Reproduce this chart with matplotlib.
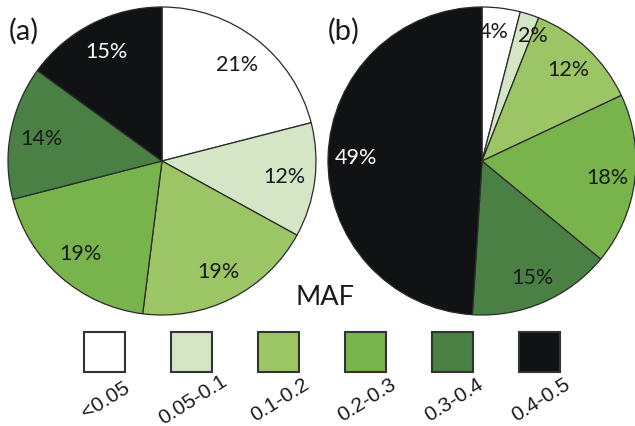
import matplotlib
matplotlib.use("Agg")
import matplotlib.pyplot as plt
from matplotlib.patches import Rectangle

categories = ["<0.05", "0.05-0.1", "0.1-0.2", "0.2-0.3", "0.3-0.4", "0.4-0.5"]
pct_a = [21, 12, 19, 19, 14, 15]
pct_b = [4, 2, 12, 18, 15, 49]
colors = ["#ffffff", "#d4e6c6", "#9cc566", "#78b44b", "#4b8044", "#101214"]
text_colors = ["#1a1a1a", "#1a1a1a", "#1a1a1a", "#1a1a1a", "#1a1a1a", "#ffffff"]

W, H = 635, 427
fig = plt.figure(figsize=(W / 100, H / 100), dpi=100)

R = 154
lim = 1.1
side = 2 * lim * R


def pie_axes(cx, cy):
    return fig.add_axes([(cx - side / 2) / W, (H - cy - side / 2) / H, side / W, side / H])


def draw_pie(ax, vals, pctdist):
    wedges, texts, autotexts = ax.pie(
        vals, colors=colors, startangle=90, counterclock=False,
        autopct=lambda p: f"{p:.0f}%", pctdistance=pctdist,
        wedgeprops=dict(edgecolor="#2a2a2a", linewidth=0.9),
        textprops=dict(fontsize=15.5, family="Lato"))
    for t, c in zip(autotexts, text_colors):
        t.set_color(c)
    ax.set_xlim(-lim, lim)
    ax.set_ylim(-lim, lim)
    ax.set_aspect("equal")
    ax.axis("off")
    return autotexts


ax_a = pie_axes(162, 162)
draw_pie(ax_a, pct_a, 0.8)
ax_b = pie_axes(482, 162)
at_b = draw_pie(ax_b, pct_b, 0.82)
# small-wedge labels sit slightly apart in the reference
x, y = at_b[0].get_position()
at_b[0].set_position((x - 0.03, y + 0.03))
x, y = at_b[1].get_position()
at_b[1].set_position((x + 0.08, y + 0.04))

# overlay axes in pixel coordinates for annotations and legend
ov = fig.add_axes([0, 0, 1, 1])
ov.set_xlim(0, W)
ov.set_ylim(H, 0)
ov.axis("off")

ov.text(24, 31, "(a)", fontsize=21, family="Lato", ha="center", va="center", color="#1a1a1a")
ov.text(344, 31, "(b)", fontsize=21, family="Lato", ha="center", va="center", color="#1a1a1a")
ov.text(325, 298, "MAF", fontsize=19.5, family="Lato", ha="center", va="center", color="#1a1a1a")

for i, (cat, col) in enumerate(zip(categories, colors)):
    x0 = 84 + i * 87
    ov.add_patch(Rectangle((x0, 333), 41, 40, facecolor=col, edgecolor="#333333", linewidth=1.5))
    ov.text(x0 + 22, 400, cat, fontsize=15, family="Liberation Sans", rotation=32,
            ha="center", va="center", rotation_mode="anchor", color="#1a1a1a")

fig.savefig("out.png", dpi=100)
